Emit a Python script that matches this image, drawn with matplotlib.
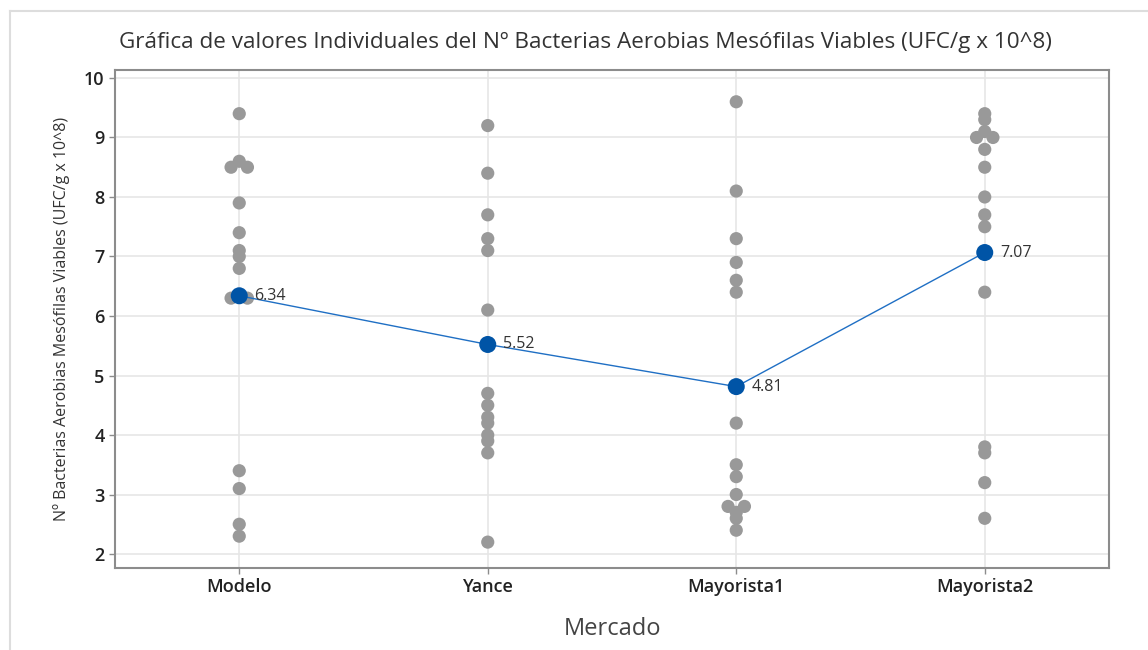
import numpy as np
import matplotlib
matplotlib.use("Agg")
import matplotlib.pyplot as plt
from matplotlib.lines import Line2D

plt.rcParams['font.family'] = ['Open Sans', 'DejaVu Sans']

categories = ["Modelo", "Yance", "Mayorista1", "Mayorista2"]
modelo = [9.4, 8.6, 8.5, 8.5, 7.9, 7.4, 7.1, 7.0, 6.8, 6.3, 6.3, 3.4, 3.1, 2.5, 2.3]
yance = [9.2, 8.4, 7.7, 7.3, 7.1, 6.1, 4.7, 4.5, 4.3, 4.2, 4.0, 3.9, 3.7, 2.2]
mayorista1 = [9.6, 8.1, 7.3, 6.9, 6.6, 6.4, 4.2, 3.5, 3.3, 3.0, 2.8, 2.8, 2.7, 2.6, 2.4]
mayorista2 = [9.4, 9.3, 9.1, 9.0, 9.0, 8.8, 8.5, 8.0, 7.7, 7.5, 6.4, 3.8, 3.7, 3.2, 2.6]
groups = [modelo, yance, mayorista1, mayorista2]
yticks = [2, 3, 4, 5, 6, 7, 8, 9, 10]

title = "Gráfica de valores Individuales del Nº Bacterias Aerobias Mesófilas Viables (UFC/g x 10^8)"
ylabel = "Nº Bacterias Aerobias Mesófilas Viables (UFC/g x 10^8)"
xlabel = "Mercado"

fig = plt.figure(figsize=(11.48, 6.5), dpi=100)
W, H = 1148, 650
ax = fig.add_axes([115 / W, 1 - 568 / H, (1109 - 115) / W, (568 - 70) / H])

gray = "#999999"
blue = "#0054A6"
line_blue = "#1F6FC4"

means = []
for i, vals in enumerate(groups):
    vals = np.array(vals)
    xs = np.full(len(vals), float(i))
    # spread duplicated values side by side
    uniq, counts = np.unique(vals, return_counts=True)
    for u, c in zip(uniq, counts):
        if c > 1:
            idx = np.where(vals == u)[0]
            for k, j in enumerate(idx):
                xs[j] = i + (k - (c - 1) / 2) * 0.066
    ax.scatter(xs, vals, s=90, color=gray, edgecolors='none', zorder=3)
    means.append(vals.mean())

xpos = np.arange(len(categories))
ax.plot(xpos, means, color=line_blue, lw=1.0, zorder=4)
ax.scatter(xpos, means, s=150, color=blue, edgecolors='none', zorder=5)
for x, m in zip(xpos, means):
    ax.annotate(f"{m:.2f}", (x, m), xytext=(11, 0), textcoords='offset points',
                va='center', ha='left', fontsize=11.5, color="#333333", zorder=6)

ax.set_xlim(-0.5, 3.5)
ax.set_ylim(1.765, 10.134)
ax.set_xticks(xpos)
ax.set_xticklabels(categories)
ax.set_yticks(yticks)
ax.grid(True, color="#E6E6E6", lw=1.2, zorder=0)
ax.set_axisbelow(True)
for s in ax.spines.values():
    s.set_color("#8C8C8C")
    s.set_linewidth(1.5)
ax.tick_params(axis='both', length=4, width=1, color="#8C8C8C", labelsize=13,
               labelcolor="#222222")
for lab in ax.get_xticklabels() + ax.get_yticklabels():
    lab.set_fontweight('semibold')

ax.set_ylabel(ylabel, fontsize=11.5, color="#333333", labelpad=10)
ax.set_xlabel(xlabel, fontsize=17, color="#444444", labelpad=15)
fig.text(585 / W, 1 - 42 / H, title, ha='center', va='center', fontsize=16.2, color="#333333")

# outer frame lines
fig.add_artist(Line2D([10 / W, 1.0], [1 - 11 / H, 1 - 11 / H], color="#DDDDDD", lw=1.5,
                      transform=fig.transFigure))
fig.add_artist(Line2D([10 / W, 10 / W], [1 - 11 / H, 0], color="#DDDDDD", lw=1.5,
                      transform=fig.transFigure))

fig.savefig("out.png", dpi=100)
